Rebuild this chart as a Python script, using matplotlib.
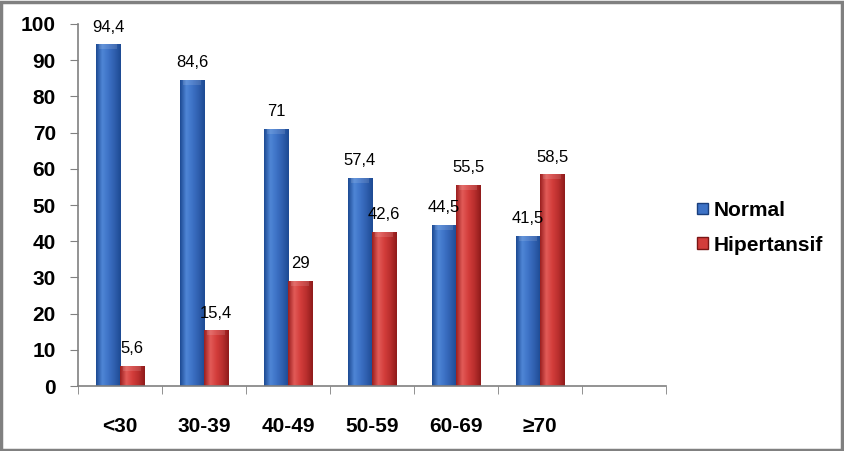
import matplotlib.pyplot as plt
import matplotlib.patches as patches
from matplotlib.colors import LinearSegmentedColormap
import numpy as np

plt.rcParams['font.family'] = ['Liberation Sans', 'DejaVu Sans']

categories = ['<30', '30-39', '40-49', '50-59', '60-69', '\u226570', '']
normal = [94.4, 84.6, 71, 57.4, 44.5, 41.5]
hipertansif = [5.6, 15.4, 29, 42.6, 55.5, 58.5]
series_names = ['Normal', 'Hipertansif']

blue_cmap = LinearSegmentedColormap.from_list(
    'b', ['#1d4a93', '#4f86d6', '#3d72c6', '#2f5fae', '#1d4a93'])
red_cmap = LinearSegmentedColormap.from_list(
    'r', ['#9a1f1f', '#e25b58', '#d33d3b', '#b82e2d', '#8f1b1b'])


def shade_bars(ax, bars, cmap):
    """Fill each bar with a horizontal gradient clipped to its shape."""
    grad = np.linspace(0, 1, 64).reshape(1, -1)
    for b in bars:
        x, y = b.get_x(), b.get_y()
        w, h = b.get_width(), b.get_height()
        b.set_facecolor('none')
        im = ax.imshow(grad, cmap=cmap, aspect='auto', extent=(x, x + w, y, y + h),
                       zorder=2, interpolation='bilinear')
        im.set_clip_path(b)
        # small bevel at the top
        top = min(h, 1.4)
        ax.add_patch(patches.Rectangle((x + w * 0.12, y + h - top), w * 0.76, top,
                                       facecolor='white', alpha=0.12, lw=0, zorder=3))


fig = plt.figure(figsize=(8.45, 4.51), dpi=100)
ax = fig.add_axes([0.0923, 0.1441, 0.6959, 0.8027])

x = np.arange(len(categories))
w = 0.286
b1 = ax.bar(x[:len(normal)] - w / 2, normal, w, edgecolor='#1a3f7d', lw=0.6, zorder=2)
b2 = ax.bar(x[:len(hipertansif)] + w / 2, hipertansif, w, edgecolor='#7a1515', lw=0.6, zorder=2)
shade_bars(ax, b1, blue_cmap)
shade_bars(ax, b2, red_cmap)

for bars, vals in ((b1, normal), (b2, hipertansif)):
    for b, v in zip(bars, vals):
        lbl = f'{v:g}'.replace('.', ',')
        ax.annotate(lbl, (b.get_x() + b.get_width() / 2, v), xytext=(0, 7),
                    textcoords='offset points', ha='center', va='bottom', fontsize=12)

ax.set_xlim(-0.5, len(categories) - 0.5)
ax.set_ylim(0, 100)
ax.set_yticks(range(0, 101, 10))
ax.set_yticklabels([str(t) for t in range(0, 101, 10)], fontsize=15, fontweight='bold')
ax.set_xticks(x)
ax.set_xticklabels(categories, fontsize=15, fontweight='bold')
ax.set_xticks(np.arange(-0.5, len(categories)), minor=True)
ax.tick_params(axis='x', which='major', length=0, pad=22)
ax.tick_params(axis='x', which='minor', length=6, color='#808080')
ax.tick_params(axis='y', length=6, color='#808080', pad=10)
for s in ('top', 'right'):
    ax.spines[s].set_visible(False)
for s in ('left', 'bottom'):
    ax.spines[s].set_color('#808080')
    ax.spines[s].set_linewidth(1.2)

handles = [patches.Patch(facecolor='#3d72c6', edgecolor='#1a3f7d'),
           patches.Patch(facecolor='#d33d3b', edgecolor='#7a1515')]
fig.legend(handles, series_names, loc='center left', bbox_to_anchor=(0.803, 0.495),
           frameon=False, handlelength=0.5, handleheight=0.5, handletextpad=0.3,
           labelspacing=0.75, prop={'weight': 'bold', 'size': 15})

fig.add_artist(patches.Rectangle((0.0015, 0.003), 0.995, 0.993, transform=fig.transFigure,
                                 fill=False, edgecolor='#808080', lw=2.5))

fig.savefig('out.png', dpi=100)
